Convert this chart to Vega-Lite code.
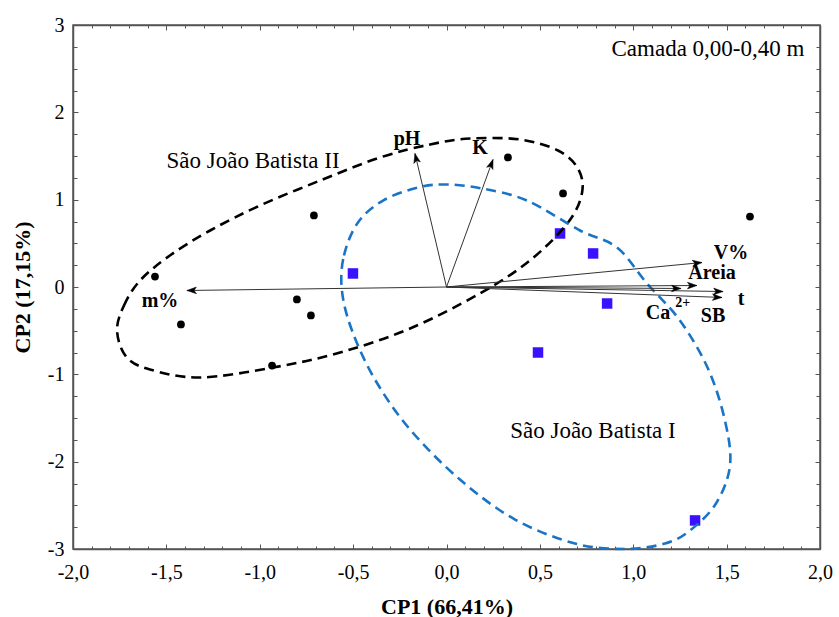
{
  "$schema": "https://vega.github.io/schema/vega-lite/v6.json",
  "width": 747,
  "height": 524,
  "autosize": "none",
  "padding": {"left": 73, "top": 25, "right": 19, "bottom": 68},
  "background": "white",
  "config": {
    "view": {"stroke": "#555", "strokeWidth": 1.5},
    "font": "Liberation Serif",
    "axis": {
      "labelFont": "Liberation Serif",
      "titleFont": "Liberation Serif",
      "labelFontSize": 20,
      "titleFontSize": 22,
      "titleFontWeight": "bold",
      "labelColor": "black",
      "titleColor": "black",
      "domainColor": "#555",
      "domainWidth": 1.5,
      "tickColor": "#555",
      "tickWidth": 1,
      "grid": false
    }
  },
  "datasets": {
    "pts": [
      {"g": "II", "x": -1.561, "y": 0.120},
      {"g": "II", "x": -1.422, "y": -0.429},
      {"g": "II", "x": -0.801, "y": -0.143},
      {"g": "II", "x": -0.726, "y": -0.326},
      {"g": "II", "x": -0.710, "y": 0.819},
      {"g": "II", "x": -0.934, "y": -0.899},
      {"g": "II", "x": 0.329, "y": 1.483},
      {"g": "II", "x": 0.624, "y": 1.071},
      {"g": "II", "x": 1.625, "y": 0.807},
      {"g": "I", "x": -0.501, "y": 0.155},
      {"g": "I", "x": 0.608, "y": 0.613},
      {"g": "I", "x": 0.785, "y": 0.384},
      {"g": "I", "x": 0.860, "y": -0.189},
      {"g": "I", "x": 0.490, "y": -0.750},
      {"g": "I", "x": 1.331, "y": -2.673}
    ],
    "vec": [
      {"v": "pH", "x": -0.169, "y": 1.529},
      {"v": "K", "x": 0.249, "y": 1.460},
      {"v": "V%", "x": 1.368, "y": 0.280},
      {"v": "Areia", "x": 1.341, "y": 0.017},
      {"v": "Ca2+", "x": 1.256, "y": -0.017},
      {"v": "t", "x": 1.481, "y": -0.052},
      {"v": "SB", "x": 1.475, "y": -0.120},
      {"v": "m%", "x": -1.390, "y": -0.040}
    ],
    "ell": [
      {"e": "II", "i": 1, "x": -1.764, "y": -0.498},
      {"e": "II", "i": 2, "x": -1.727, "y": -0.212},
      {"e": "II", "i": 3, "x": -1.641, "y": 0.074},
      {"e": "II", "i": 4, "x": -1.481, "y": 0.361},
      {"e": "II", "i": 5, "x": -1.266, "y": 0.647},
      {"e": "II", "i": 6, "x": -0.999, "y": 0.933},
      {"e": "II", "i": 7, "x": -0.677, "y": 1.219},
      {"e": "II", "i": 8, "x": -0.356, "y": 1.483},
      {"e": "II", "i": 9, "x": -0.088, "y": 1.632},
      {"e": "II", "i": 10, "x": 0.126, "y": 1.700},
      {"e": "II", "i": 11, "x": 0.394, "y": 1.689},
      {"e": "II", "i": 12, "x": 0.597, "y": 1.563},
      {"e": "II", "i": 13, "x": 0.704, "y": 1.357},
      {"e": "II", "i": 14, "x": 0.726, "y": 1.082},
      {"e": "II", "i": 15, "x": 0.651, "y": 0.739},
      {"e": "II", "i": 16, "x": 0.447, "y": 0.304},
      {"e": "II", "i": 17, "x": 0.179, "y": -0.074},
      {"e": "II", "i": 18, "x": -0.195, "y": -0.475},
      {"e": "II", "i": 19, "x": -0.570, "y": -0.750},
      {"e": "II", "i": 20, "x": -0.929, "y": -0.922},
      {"e": "II", "i": 21, "x": -1.320, "y": -1.036},
      {"e": "II", "i": 22, "x": -1.588, "y": -0.945},
      {"e": "II", "i": 23, "x": -1.716, "y": -0.796},
      {"e": "I", "i": 1, "x": -0.560, "y": -0.040},
      {"e": "I", "i": 2, "x": -0.549, "y": 0.361},
      {"e": "I", "i": 3, "x": -0.474, "y": 0.739},
      {"e": "I", "i": 4, "x": -0.340, "y": 0.990},
      {"e": "I", "i": 5, "x": -0.153, "y": 1.139},
      {"e": "I", "i": 6, "x": 0.003, "y": 1.174},
      {"e": "I", "i": 7, "x": 0.190, "y": 1.128},
      {"e": "I", "i": 8, "x": 0.431, "y": 0.990},
      {"e": "I", "i": 9, "x": 0.715, "y": 0.647},
      {"e": "I", "i": 10, "x": 0.913, "y": 0.452},
      {"e": "I", "i": 11, "x": 1.074, "y": 0.040},
      {"e": "I", "i": 12, "x": 1.250, "y": -0.384},
      {"e": "I", "i": 13, "x": 1.400, "y": -0.933},
      {"e": "I", "i": 14, "x": 1.491, "y": -1.529},
      {"e": "I", "i": 15, "x": 1.518, "y": -2.044},
      {"e": "I", "i": 16, "x": 1.443, "y": -2.479},
      {"e": "I", "i": 17, "x": 1.304, "y": -2.788},
      {"e": "I", "i": 18, "x": 1.170, "y": -2.937},
      {"e": "I", "i": 19, "x": 0.956, "y": -3.0},
      {"e": "I", "i": 20, "x": 0.688, "y": -2.937},
      {"e": "I", "i": 21, "x": 0.367, "y": -2.663},
      {"e": "I", "i": 22, "x": 0.072, "y": -2.205},
      {"e": "I", "i": 23, "x": -0.195, "y": -1.632},
      {"e": "I", "i": 24, "x": -0.383, "y": -1.060},
      {"e": "I", "i": 25, "x": -0.506, "y": -0.498}
    ],
    "vlab": [
      {"t": "pH", "x": -0.2115, "y": 1.695},
      {"t": "K", "x": 0.179, "y": 1.592},
      {"t": "V%", "x": 1.523, "y": 0.389},
      {"t": "Areia", "x": 1.422, "y": 0.160},
      {"t": "t", "x": 1.577, "y": -0.137},
      {"t": "Ca", "x": 1.132, "y": -0.298},
      {"t": "SB", "x": 1.427, "y": -0.332},
      {"t": "m%", "x": -1.534, "y": -0.160}
    ],
    "sup": [
      {"t": "2+", "x": 1.265, "y": -0.183}
    ],
    "glab": [
      {"t": "São João Batista II", "x": -1.036, "y": 1.443},
      {"t": "São João Batista I", "x": 0.784, "y": -1.649},
      {"t": "Camada 0,00-0,40 m", "x": 1.400, "y": 2.726}
    ]
  },
  "resolve": {"axis": {"x": "independent", "y": "independent"}},
  "layer": [
    {
      "data": {"name": "pts"},
      "transform": [{"filter": "datum.g == 'II'"}],
      "mark": {"type": "point", "shape": "circle", "filled": true, "color": "black", "size": 60, "opacity": 1},
      "encoding": {
        "x": {
          "field": "x", "type": "quantitative",
          "scale": {"domain": [-2, 2], "nice": false, "zero": false},
          "axis": {
            "title": "CP1 (66,41%)",
            "values": [-2, -1.9, -1.8, -1.7, -1.6, -1.5, -1.4, -1.3, -1.2, -1.1, -1, -0.9, -0.8, -0.7, -0.6, -0.5, -0.4, -0.3, -0.2, -0.1, 0, 0.1, 0.2, 0.3, 0.4, 0.5, 0.6, 0.7, 0.8, 0.9, 1, 1.1, 1.2, 1.3, 1.4, 1.5, 1.6, 1.7, 1.8, 1.9, 2],
            "labelExpr": "abs(datum.value*2 - round(datum.value*2)) < 0.001 ? replace(replace(format(datum.value, '.1f'), '.', ','), '\u2212', '-') : ''",
            "tickSize": {"condition": {"test": "abs(datum.value*2 - round(datum.value*2)) < 0.001", "value": -5}, "value": -3},
            "labelPadding": 18,
            "labelFlush": false,
            "labelOverlap": false,
            "titleY": 64,
            "titleBaseline": "alphabetic"
          }
        },
        "y": {
          "field": "y", "type": "quantitative",
          "scale": {"domain": [-3, 3], "nice": false, "zero": false},
          "axis": {
            "title": "CP2 (17,15%)",
            "values": [-3, -2.75, -2.5, -2.25, -2, -1.75, -1.5, -1.25, -1, -0.75, -0.5, -0.25, 0, 0.25, 0.5, 0.75, 1, 1.25, 1.5, 1.75, 2, 2.25, 2.5, 2.75, 3],
            "labelExpr": "abs(datum.value - round(datum.value)) < 0.001 ? replace(format(datum.value, 'd'), '\u2212', '-') : ''",
            "tickSize": {"condition": {"test": "abs(datum.value - round(datum.value)) < 0.001", "value": -5}, "value": -4},
            "labelPadding": 14,
            "labelFlush": false,
            "labelOverlap": false,
            "titleX": -44,
            "titleY": 262,
            "titleAngle": -90,
            "titleAlign": "center",
            "titleBaseline": "alphabetic"
          }
        }
      }
    },
    {
      "data": {"name": "pts"},
      "transform": [{"filter": "datum.g == 'I'"}],
      "mark": {"type": "point", "shape": "square", "filled": true, "color": "#3a10ff", "size": 110, "opacity": 1},
      "encoding": {
        "x": {
          "field": "x", "type": "quantitative",
          "axis": {
            "orient": "top", "title": null, "labels": false,
            "values": [-2, -1.9, -1.8, -1.7, -1.6, -1.5, -1.4, -1.3, -1.2, -1.1, -1, -0.9, -0.8, -0.7, -0.6, -0.5, -0.4, -0.3, -0.2, -0.1, 0, 0.1, 0.2, 0.3, 0.4, 0.5, 0.6, 0.7, 0.8, 0.9, 1, 1.1, 1.2, 1.3, 1.4, 1.5, 1.6, 1.7, 1.8, 1.9, 2],
            "tickSize": {"condition": {"test": "abs(datum.value*2 - round(datum.value*2)) < 0.001", "value": -5}, "value": -3}
          }
        },
        "y": {
          "field": "y", "type": "quantitative",
          "axis": {
            "orient": "right", "title": null, "labels": false,
            "values": [-3, -2.75, -2.5, -2.25, -2, -1.75, -1.5, -1.25, -1, -0.75, -0.5, -0.25, 0, 0.25, 0.5, 0.75, 1, 1.25, 1.5, 1.75, 2, 2.25, 2.5, 2.75, 3],
            "tickSize": {"condition": {"test": "abs(datum.value - round(datum.value)) < 0.001", "value": -5}, "value": -4}
          }
        }
      }
    },
    {
      "mark": {"type": "rule", "color": "black", "strokeWidth": 1},
      "encoding": {"x": {"datum": 0, "type": "quantitative", "axis": null}}
    },
    {
      "mark": {"type": "rule", "color": "black", "strokeWidth": 1},
      "encoding": {"y": {"datum": 0, "type": "quantitative", "axis": null}}
    },
    {
      "data": {"name": "ell"},
      "mark": {"type": "line", "interpolate": "cardinal-closed", "strokeWidth": 2.6, "strokeDash": [10, 6]},
      "encoding": {
        "x": {"field": "x", "type": "quantitative", "axis": null},
        "y": {"field": "y", "type": "quantitative", "axis": null},
        "order": {"field": "i", "type": "quantitative"},
        "color": {"field": "e", "type": "nominal", "scale": {"domain": ["II", "I"], "range": ["black", "#1a74c6"]}, "legend": null}
      }
    },
    {
      "data": {"name": "vec"},
      "mark": {"type": "rule", "color": "#333", "strokeWidth": 1},
      "encoding": {
        "x": {"field": "x", "type": "quantitative", "axis": null},
        "y": {"field": "y", "type": "quantitative", "axis": null},
        "x2": {"datum": 0},
        "y2": {"datum": 0}
      }
    },
    {
      "data": {"name": "vec"},
      "transform": [{"calculate": "atan2(datum.x*186.75, datum.y*87.33)*180/PI", "as": "ang"}],
      "mark": {"type": "point", "shape": "M0,0L0.35,1L0,0.75L-0.35,1Z", "filled": true, "color": "black", "stroke": "black", "strokeWidth": 0.5, "size": 360, "opacity": 1},
      "encoding": {
        "x": {"field": "x", "type": "quantitative", "axis": null},
        "y": {"field": "y", "type": "quantitative", "axis": null},
        "angle": {"field": "ang", "type": "quantitative", "scale": null}
      }
    },
    {
      "data": {"name": "vlab"},
      "mark": {"type": "text", "font": "Liberation Serif", "fontWeight": "bold", "fontSize": 20, "color": "black", "align": "center", "baseline": "middle"},
      "encoding": {
        "x": {"field": "x", "type": "quantitative", "axis": null},
        "y": {"field": "y", "type": "quantitative", "axis": null},
        "text": {"field": "t"}
      }
    },
    {
      "data": {"name": "sup"},
      "mark": {"type": "text", "font": "Liberation Serif", "fontWeight": "bold", "fontSize": 14, "color": "black", "align": "center", "baseline": "middle"},
      "encoding": {
        "x": {"field": "x", "type": "quantitative", "axis": null},
        "y": {"field": "y", "type": "quantitative", "axis": null},
        "text": {"field": "t"}
      }
    },
    {
      "data": {"name": "glab"},
      "mark": {"type": "text", "font": "Liberation Serif", "fontSize": 23, "color": "black", "align": "center", "baseline": "middle"},
      "encoding": {
        "x": {"field": "x", "type": "quantitative", "axis": null},
        "y": {"field": "y", "type": "quantitative", "axis": null},
        "text": {"field": "t"}
      }
    }
  ]
}
